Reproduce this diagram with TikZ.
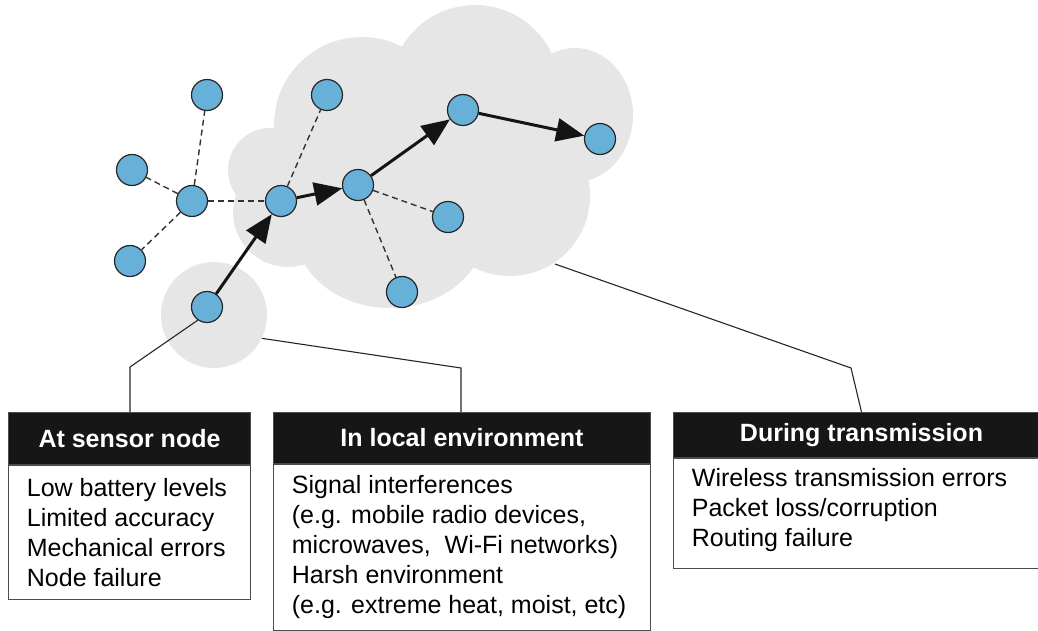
\documentclass[tikz,border=0pt]{standalone}
\usepackage{fontspec}
\setmainfont{Liberation Sans}
\usetikzlibrary{arrows.meta}
\definecolor{cloudgray}{RGB}{230,230,230}
\definecolor{nodeblue}{RGB}{103,177,216}
\definecolor{headblack}{RGB}{22,22,22}
\begin{document}
\begin{tikzpicture}[x=1pt,y=-1pt,
  sensor/.style={circle,draw=black!85,line width=1.2pt,fill=nodeblue,minimum size=31pt,inner sep=0pt},
  link/.style={dash pattern=on 6pt off 4pt,line width=1.4pt,black!80},
  hop/.style={line width=3pt,black!92,-{Triangle[length=28pt,width=23pt]}},
  leader/.style={line width=1.1pt,black!85},
  area/.style={fill=cloudgray},
  hdr/.style={draw=black!70,fill=headblack,text=white,line width=1pt,
    font=\fontsize{25}{30}\selectfont\bfseries,anchor=north west,inner sep=0pt},
  bodybox/.style={draw=black!70,fill=white,line width=1pt,anchor=north west,inner sep=0pt},
  bodytext/.style={anchor=west,align=left,inner sep=0pt,font=\fontsize{25}{30}\selectfont}
]
\useasboundingbox (0,0) rectangle (1038,630);
\clip (0,0) rectangle (1038,630);

% network cloud, built from overlapping bumps
\fill[area]
  (270,170) circle[radius=42pt]
  (288,212) circle[radius=55pt]
  (362,125) circle[radius=88pt]
  (475,90) circle[radius=85pt]
  (575,115) ellipse[x radius=58pt,y radius=67pt]
  (510,196) circle[radius=80pt]
  (390,230) ellipse[x radius=95pt,y radius=78pt]
  (430,160) circle[radius=110pt];

% local area around the source node
\node[area,circle,minimum size=106pt,inner sep=0pt] (envcirc) at (214,315) {};

% sensor nodes
\node[sensor] (A) at (207,95) {};
\node[sensor] (B) at (132,170) {};
\node[sensor] (C) at (192,201) {};
\node[sensor] (D) at (130,261) {};
\node[sensor] (E) at (207,307) {};
\node[sensor] (F) at (281,201) {};
\node[sensor] (G) at (327,95) {};
\node[sensor] (H) at (358,185) {};
\node[sensor] (I) at (463,110) {};
\node[sensor] (J) at (448,217) {};
\node[sensor] (K) at (402,292) {};
\node[sensor] (L) at (600,139) {};

% idle radio links
\draw[link] (C) -- (A);
\draw[link] (C) -- (B);
\draw[link] (C) -- (D);
\draw[link] (C) -- (F);
\draw[link] (F) -- (G);
\draw[link] (H) -- (J);
\draw[link] (H) -- (K);

% routing path
\draw[hop] (E) -- (F);
\draw[hop] (F) -- (H);
\draw[hop] (H) -- (I);
\draw[hop] (I) -- (L);

% category boxes
\node[hdr,minimum width=242pt,minimum height=52pt] (h1) at (8,412) {At sensor node};
\node[bodybox,minimum width=242pt,minimum height=134pt] (b1) at (h1.south west) {};
\node[bodytext] (t1) at ([xshift=18.7pt]b1.west)
  {Low battery levels\\Limited accuracy\\Mechanical errors\\Node failure};

\node[hdr,minimum width=377pt,minimum height=51pt] (h2) at (273,412) {In local environment};
\node[bodybox,minimum width=377pt,minimum height=165.5pt] (b2) at (h2.south west) {};
\node[bodytext] (t2) at ([xshift=18.7pt]b2.west)
  {Signal interferences\\(e.g. mobile radio devices,\\microwaves,~ Wi-Fi networks)\\Harsh environment\\(e.g. extreme heat, moist, etc)};

\node[hdr,minimum width=376pt,minimum height=45pt] (h3) at (673,412) {During transmission};
\node[bodybox,minimum width=376pt,minimum height=110pt] (b3) at (h3.south west) {};
\node[bodytext] (t3) at ([xshift=18.7pt,yshift=3pt]b3.west)
  {Wireless transmission errors\\Packet loss/corruption\\Routing failure};

% leader lines from the regions to their boxes
\coordinate (k1) at (130,367);
\coordinate (k2) at (461,368);
\coordinate (c3) at (555,264);
\coordinate (k3) at (851,368);
\draw[leader] (E.-125) -- (k1) -- (k1 |- h1.north);
\draw[leader] (envcirc.-26) -- (k2) -- (k2 |- h2.north);
\draw[leader] (c3) -- (k3) -- (h3.north);
\end{tikzpicture}
\end{document}
